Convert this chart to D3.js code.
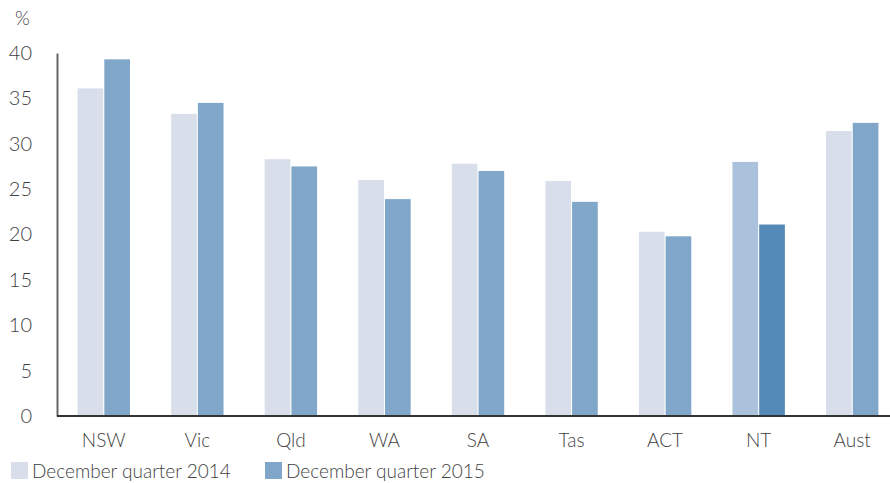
<!DOCTYPE html>
<html lang="en">
<head>
  <script src="https://d3js.org/d3.v7.min.js"></script>
  <style>
    body {
      margin: 0;
      background: white;
      font-family: Lato, sans-serif;
      font-weight: 300;
    }
    text {
      fill: #3f3f3f;
    }
  </style>
</head>
<body>
<div id="chart"></div>
<script>
  var categories = ["NSW", "Vic", "Qld", "WA", "SA", "Tas", "ACT", "NT", "Aust"];
  var series2014 = [36.1, 33.3, 28.3, 26.0, 27.8, 25.9, 20.3, 28.0, 31.4];
  var series2015 = [39.3, 34.5, 27.5, 23.9, 27.0, 23.6, 19.8, 21.1, 32.3];
  var yTicks = [0, 5, 10, 15, 20, 25, 30, 35, 40];
  var seriesNames = ["December quarter 2014", "December quarter 2015"];

  var width = 890, height = 483;
  var margin = {top: 53, right: -9, bottom: 67, left: 57};

  var svg = d3.select("#chart").append("svg")
          .attr("width", width)
          .attr("height", height);

  var x = d3.scaleBand()
          .domain(categories)
          .range([margin.left, width - margin.right])
          .paddingInner(0.44)
          .paddingOuter(0.22);

  var y = d3.scaleLinear()
          .domain([0, 40])
          .range([height - margin.bottom, margin.top]);

  var x1 = d3.scaleBand()
          .domain([0, 1])
          .range([0, x.bandwidth()])
          .paddingInner(0.04);

  var colors = ["#d8dfeb", "#80a7c9"];
  var ntColors = ["#abc2dc", "#5289b6"];

  var rows = categories.map(function (c, i) {
    return {cat: c, values: [series2014[i], series2015[i]]};
  });

  var groups = svg.selectAll(".group")
          .data(rows)
          .enter().append("g")
          .attr("transform", function (d) { return "translate(" + x(d.cat) + ",0)"; });

  groups.selectAll("rect")
          .data(function (d) {
            return d.values.map(function (v, k) { return {cat: d.cat, k: k, v: v}; });
          })
          .enter().append("rect")
          .attr("x", function (d) { return x1(d.k); })
          .attr("y", function (d) { return y(d.v); })
          .attr("width", x1.bandwidth())
          .attr("height", function (d) { return y(0) - y(d.v); })
          .style("fill", function (d) { return d.cat === "NT" ? ntColors[d.k] : colors[d.k]; });

  // y axis
  var yAxis = d3.axisLeft(y).tickValues(yTicks).tickSize(0).tickPadding(25);
  var gY = svg.append("g")
          .attr("transform", "translate(" + margin.left + ",0)")
          .call(yAxis);
  gY.select(".domain").attr("stroke", "#666").attr("stroke-width", 2);
  gY.selectAll("text")
          .style("font-family", "Lato, sans-serif")
          .style("font-weight", 300)
          .style("font-size", "20px")
          .attr("fill", "#3f3f3f");

  // x axis
  var xAxis = d3.axisBottom(x).tickSize(0).tickPadding(18);
  var gX = svg.append("g")
          .attr("transform", "translate(0," + y(0) + ")")
          .call(xAxis);
  gX.select(".domain").attr("stroke", "#333").attr("stroke-width", 2)
          .attr("d", "M" + margin.left + ",0H" + (width + 10));
  gX.selectAll("text")
          .style("font-family", "Lato, sans-serif")
          .style("font-weight", 300)
          .style("font-size", "19px")
          .attr("fill", "#3f3f3f");

  svg.append("text")
          .attr("x", 15)
          .attr("y", 25)
          .style("font-size", "19px")
          .text("%");

  // legend
  var legendX = [11, 265];
  var legend = svg.selectAll(".legend")
          .data(seriesNames)
          .enter().append("g")
          .attr("transform", function (d, i) { return "translate(" + legendX[i] + ",462)"; });
  legend.append("rect")
          .attr("width", 17)
          .attr("height", 17)
          .style("fill", function (d, i) { return colors[i]; });
  legend.append("text")
          .attr("x", 21)
          .attr("y", 16)
          .style("font-size", "19px")
          .text(function (d) { return d; });
</script>
</body>
</html>
